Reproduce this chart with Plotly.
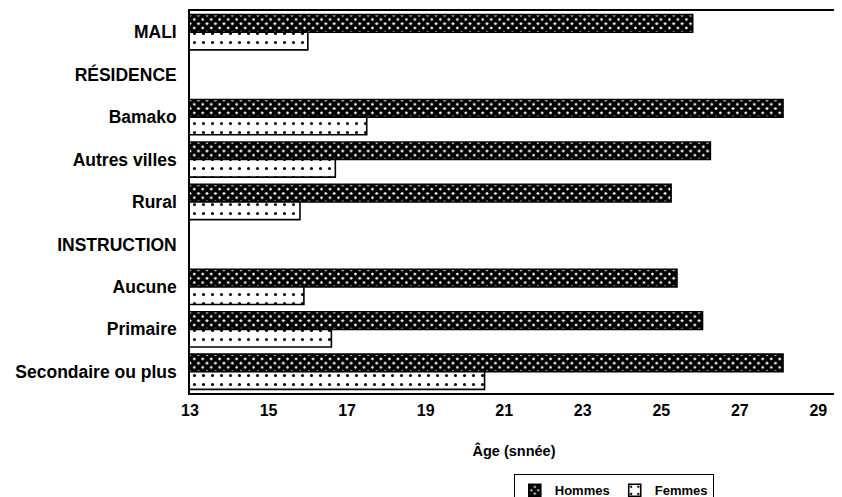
import plotly.graph_objects as go

categories = ["MALI", "RÉSIDENCE", "Bamako", "Autres villes", "Rural",
              "INSTRUCTION", "Aucune", "Primaire", "Secondaire ou plus"]
hommes = [25.8, None, 28.1, 26.25, 25.25, None, 25.4, 26.05, 28.1]
femmes = [16.0, None, 17.5, 16.7, 15.8, None, 15.9, 16.6, 20.5]
tick_vals = [13, 15, 17, 19, 21, 23, 25, 27, 29]

FONT = "Liberation Sans, Arial, sans-serif"

fig = go.Figure()
fig.add_trace(go.Bar(
    y=categories, x=hommes, name="Hommes", orientation="h",
    marker=dict(color="white", line=dict(color="black", width=1.6),
                pattern=dict(shape="x", fgcolor="black", bgcolor="white",
                             fgopacity=1, size=6, solidity=0.85)),
))
fig.add_trace(go.Bar(
    y=categories, x=femmes, name="Femmes", orientation="h",
    marker=dict(color="white", line=dict(color="black", width=1.6),
                pattern=dict(shape=".", fgcolor="black", bgcolor="white",
                             fgopacity=1, size=9, solidity=0.09)),
))

# the page body adds an 8 px offset, so the figure is 8 px smaller
fig.update_layout(
    width=834, height=489,
    margin=dict(l=182, r=4, t=3, b=104, autoexpand=False),
    barmode="group", bargap=0.17, bargroupgap=0.0,
    plot_bgcolor="white", paper_bgcolor="white",
    font=dict(family=FONT, size=14, color="black"),
    legend=dict(orientation="h", x=0.654, xanchor="center", y=-0.213, yanchor="top",
                bordercolor="black", borderwidth=1, font=dict(size=13, weight="bold"),
                itemwidth=30, tracegroupgap=0),
    showlegend=True,
)
fig.update_xaxes(
    range=[13, 29.5], tickvals=tick_vals, ticks="", showgrid=False,
    showline=True, linecolor="black", linewidth=1.5, mirror=True,
    tickfont=dict(size=16, family=FONT, weight="bold"),
    ticklabelstandoff=2, automargin=False,
    title=dict(text="Âge (snnée)", font=dict(size=14.5, weight="bold"), standoff=28),
    zeroline=False,
)
fig.update_yaxes(
    categoryorder="array", categoryarray=categories, autorange="reversed",
    showline=True, linecolor="black", linewidth=1.5, mirror=False,
    ticks="", showgrid=False, ticklabelstandoff=8, automargin=False,
    tickfont=dict(size=17.5, weight="bold"),
)

fig.write_html("out.html")
